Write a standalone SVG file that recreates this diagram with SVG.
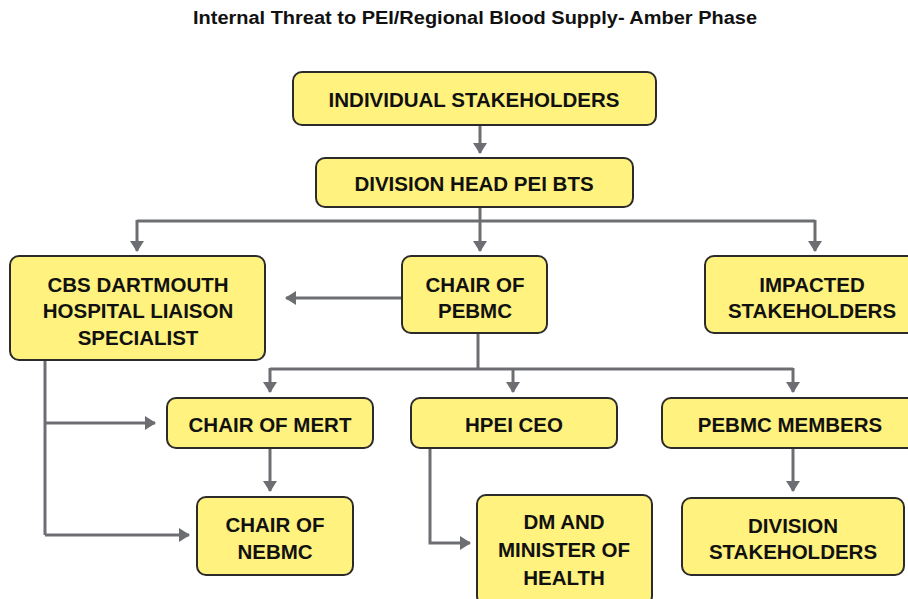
<svg xmlns="http://www.w3.org/2000/svg" width="908" height="599" viewBox="0 0 908 599">
<defs>
<marker id="ah" markerWidth="14" markerHeight="14" refX="10" refY="7" orient="auto" markerUnits="userSpaceOnUse">
<path d="M0,0 L11,7 L0,14 Z" fill="#6d6e71"/>
</marker>
<style>
.box{fill:#fff27f;stroke:#2b2b2b;stroke-width:2}
.t{font-family:"Liberation Sans",Arial,sans-serif;font-weight:bold;font-size:20.5px;fill:#111;text-anchor:middle}
.ti{font-family:"Liberation Sans",Arial,sans-serif;font-weight:bold;font-size:18px;fill:#111;text-anchor:middle}
.c{fill:none;stroke:#6d6e71;stroke-width:3}
.a{marker-end:url(#ah)}
</style>
</defs>
<rect width="908" height="599" fill="#fff"/>
<text class="ti" x="475" y="24" textLength="564" lengthAdjust="spacingAndGlyphs">Internal Threat to PEI/Regional Blood Supply- Amber Phase</text>
<g id="connectors">
<path class="c a" d="M480,125 V153"/>
<path class="c" d="M480,207 V221"/>
<path class="c" d="M137,221 H815"/>
<path class="c a" d="M137,220 V251"/>
<path class="c a" d="M480,220 V251"/>
<path class="c a" d="M815,220 V251"/>
<path class="c a" d="M402,298 H286"/>
<path class="c" d="M478,333 V369"/>
<path class="c" d="M270,369 H793"/>
<path class="c a" d="M270,368 V392"/>
<path class="c a" d="M513,368 V392"/>
<path class="c a" d="M793,368 V392"/>
<path class="c a" d="M270,448 V491"/>
<path class="c a" d="M793,448 V491"/>
<path class="c" d="M45,360 V535"/>
<path class="c a" d="M45,423 H155"/>
<path class="c a" d="M45,535 H189"/>
<path class="c a" d="M430,448 V543 H470"/>
</g>
<g id="n1"><rect class="box" x="293" y="72" width="363" height="53" rx="9"/><text class="t" x="474" y="107">INDIVIDUAL STAKEHOLDERS</text></g>
<g id="n2"><rect class="box" x="316" y="158" width="317" height="49" rx="9"/><text class="t" x="474" y="191">DIVISION HEAD PEI BTS</text></g>
<g id="n3"><rect class="box" x="10" y="256" width="255" height="104" rx="9"/><text class="t" x="138" y="292">CBS DARTMOUTH</text><text class="t" x="138" y="318">HOSPITAL LIAISON</text><text class="t" x="138" y="345">SPECIALIST</text></g>
<g id="n4"><rect class="box" x="402" y="256" width="145" height="77" rx="9"/><text class="t" x="475" y="292">CHAIR OF</text><text class="t" x="475" y="318">PEBMC</text></g>
<g id="n5"><rect class="box" x="705" y="256" width="220" height="77" rx="9"/><text class="t" x="812" y="292">IMPACTED</text><text class="t" x="812" y="318">STAKEHOLDERS</text></g>
<g id="n6"><rect class="box" x="167" y="398" width="206" height="50" rx="9"/><text class="t" x="270" y="432">CHAIR OF MERT</text></g>
<g id="n7"><rect class="box" x="411" y="398" width="206" height="50" rx="9"/><text class="t" x="514" y="432">HPEI CEO</text></g>
<g id="n8"><rect class="box" x="662" y="398" width="260" height="50" rx="9"/><text class="t" x="790" y="432">PEBMC MEMBERS</text></g>
<g id="n9"><rect class="box" x="197" y="497" width="156" height="78" rx="9"/><text class="t" x="275" y="532">CHAIR OF</text><text class="t" x="275" y="559">NEBMC</text></g>
<g id="n10"><rect class="box" x="477" y="495" width="175" height="110" rx="9"/><text class="t" x="564" y="529">DM AND</text><text class="t" x="564" y="557">MINISTER OF</text><text class="t" x="564" y="585">HEALTH</text></g>
<g id="n11"><rect class="box" x="682" y="498" width="222" height="77" rx="9"/><text class="t" x="793" y="533">DIVISION</text><text class="t" x="793" y="559">STAKEHOLDERS</text></g>
</svg>
